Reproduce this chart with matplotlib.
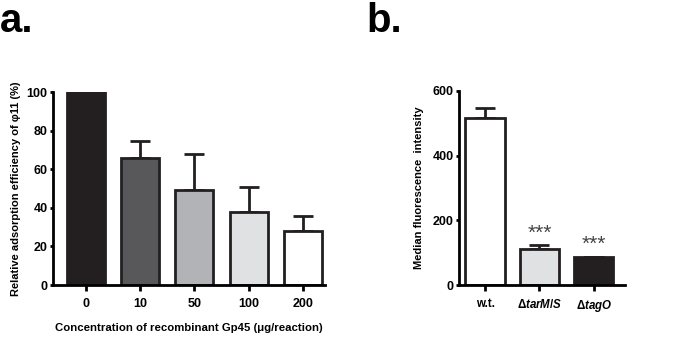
import numpy as np
import matplotlib
matplotlib.use("Agg")
import matplotlib.pyplot as plt

plt.rcParams['font.family'] = ['Liberation Sans Narrow', 'Liberation Sans', 'DejaVu Sans']
plt.rcParams['font.weight'] = 'bold'
plt.rcParams['axes.labelweight'] = 'bold'
plt.rcParams['mathtext.fontset'] = 'custom'
plt.rcParams['mathtext.rm'] = 'Liberation Sans:bold'
plt.rcParams['mathtext.bf'] = 'Liberation Sans:bold'
plt.rcParams['mathtext.it'] = 'Liberation Sans:bold:italic'

# panel a data
conc_labels = ['0', '10', '50', '100', '200']
adsorption = [100, 66, 49, 37.7, 28]
adsorption_err = [0, 8.7, 19, 13, 8]
colors_a = ['#231f20', '#58585a', '#b1b3b6', '#e0e1e2', '#ffffff']

# panel b data
strain_labels = ['w.t.', r'$\Delta\mathit{tarM/S}$', r'$\Delta\mathit{tagO}$']
fluor = [517, 113, 86]
fluor_err = [29, 10, 2]
colors_b = ['#ffffff', '#e0e1e2', '#231f20']
stars = ['', '***', '***']

fig = plt.figure(figsize=(6.85, 3.37), dpi=100)
ax1 = fig.add_axes([0.0774, 0.154, 0.397, 0.573])
ax2 = fig.add_axes([0.670, 0.154, 0.242, 0.576])

lw = 2.0
tfs = 9

def style(ax):
    for s in ['top', 'right']:
        ax.spines[s].set_visible(False)
    for s in ['left', 'bottom']:
        ax.spines[s].set_linewidth(lw)
    ax.tick_params(width=lw, length=4, labelsize=tfs, pad=2)
    ax.tick_params(axis='y', length=2)
    ax.tick_params(axis='x', pad=5)

x = np.arange(len(conc_labels))
ax1.bar(x, adsorption, width=0.7, color=colors_a, edgecolor='#231f20', linewidth=lw, zorder=2)
ax1.errorbar(x[1:], adsorption[1:], yerr=[np.zeros(4), adsorption_err[1:]], fmt='none',
             ecolor='#231f20', elinewidth=lw, capsize=7, capthick=lw, zorder=1)
ax1.set_xlim(-0.61, 4.41)
ax1.set_ylim(0, 100)
ax1.set_yticks([0, 20, 40, 60, 80, 100])
ax1.set_xticks(x)
ax1.set_xticklabels(conc_labels)
ax1.set_ylabel('Relative adsorption efficiency of φ11 (%)', fontsize=8, labelpad=4)
ax1.set_xlabel('Concentration of recombinant Gp45 (μg/reaction)', fontsize=8.2, labelpad=10)
style(ax1)

xb = np.arange(len(strain_labels))
ax2.bar(xb, fluor, width=0.72, color=colors_b, edgecolor='#231f20', linewidth=lw, zorder=2)
ax2.errorbar(xb, fluor, yerr=[np.zeros(3), fluor_err], fmt='none',
             ecolor='#231f20', elinewidth=lw, capsize=7, capthick=lw, zorder=1)
for i, s in enumerate(stars):
    if s:
        ax2.text(xb[i], fluor[i] + fluor_err[i] + 8, s, ha='center', va='bottom',
                 fontsize=15, fontweight='normal', color='#444444')
ax2.set_xlim(-0.48, 2.57)
ax2.set_ylim(0, 600)
ax2.set_yticks([0, 200, 400, 600])
ax2.set_xticks(xb)
ax2.set_xticklabels(strain_labels)
ax2.tick_params(axis='x', labelsize=8.3)
ax2.set_ylabel('Median fluorescence  intensity', fontsize=8, labelpad=6)
style(ax2)
ax2.tick_params(axis='x', labelsize=8.3)

fig.text(0.0, 0.995, 'a.', fontsize=29, fontweight='bold', va='top', ha='left')
fig.text(0.535, 0.995, 'b.', fontsize=29, fontweight='bold', va='top', ha='left')

fig.savefig('out.png', dpi=100)
